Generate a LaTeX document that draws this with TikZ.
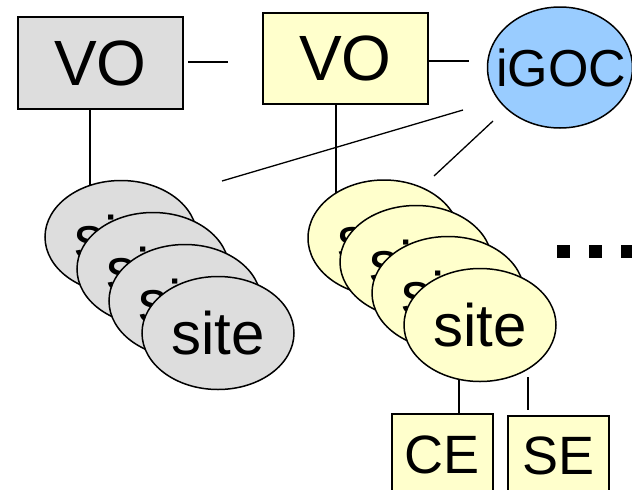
\documentclass[tikz,border=0pt]{standalone}
\usepackage{fontspec}
\setmainfont{Liberation Sans}
\usetikzlibrary{shapes.geometric}
\definecolor{greyfill}{HTML}{DDDDDD}
\definecolor{yelfill}{HTML}{FFFFCC}
\definecolor{bluefill}{HTML}{99CCFF}
\tikzset{
  vobox/.style={draw=black, line width=1.5pt, rectangle, inner sep=0pt, font=\fontsize{64}{64}\selectfont},
  sitenode/.style={draw=black, line width=1.5pt, ellipse, inner sep=0pt, minimum width=152pt, minimum height=113pt, font=\fontsize{60}{60}\selectfont},
  elbox/.style={draw=black, line width=1.5pt, fill=yelfill, rectangle, inner sep=0pt, font=\fontsize{54}{54}\selectfont},
  conn/.style={draw=black, line width=1.3pt},
  dotsq/.style={fill=black, rectangle, inner sep=0pt, minimum size=13pt}
}
\begin{document}
\begin{tikzpicture}[x=1pt,y=-1pt]
\useasboundingbox (0,0) rectangle (632,490);
\clip (0,0) rectangle (632,490);
\fill[white] (0,0) rectangle (632,490);

% connectors (behind shapes)
\coordinate (a1) at (188,62);  \coordinate (a2) at (228,62);
\coordinate (b1) at (428,61);  \coordinate (b2) at (469,61);
\coordinate (c1) at (90,106);  \coordinate (c2) at (90,188);
\coordinate (d1) at (336,104); \coordinate (d2) at (336,199);
\coordinate (e1) at (222,181); \coordinate (e2) at (463,110);
\coordinate (f1) at (434,176); \coordinate (f2) at (493,121);
\coordinate (g1) at (459,378); \coordinate (g2) at (459,414);
\coordinate (h1) at (528,377); \coordinate (h2) at (528,410);
\draw[conn] (a1) -- (a2);
\draw[conn] (b1) -- (b2);
\draw[conn] (c1) -- (c2);
\draw[conn] (d1) -- (d2);
\draw[conn] (e1) -- (e2);
\draw[conn] (f1) -- (f2);
\draw[conn] (g1) -- (g2);
\draw[conn] (h1) -- (h2);

% VO boxes
\node[vobox, fill=greyfill, minimum width=165pt, minimum height=92pt] (vo1) at (100.5,63) {VO};
\node[vobox, fill=yelfill, minimum width=165pt, minimum height=91pt] (vo2) at (345.5,58.5) {VO};

% iGOC
\node[draw=black, line width=1.5pt, fill=bluefill, ellipse, inner sep=0pt, minimum width=145pt, minimum height=121pt] (igoc) at (560,67.5) {};
\node[font=\fontsize{52}{52}\selectfont, inner sep=0pt] (igoctext) at (561,67.5) {iGOC};

% grey sites
\node[sitenode, fill=greyfill] (gs1) at (121,237) {site};
\node[sitenode, fill=greyfill] (gs2) at (153,269) {site};
\node[sitenode, fill=greyfill] (gs3) at (185,301) {site};
\node[sitenode, fill=greyfill] (gs4) at (218,333) {site};

% yellow sites
\node[sitenode, fill=yelfill, minimum height=116pt] (ys1) at (384,238) {site};
\node[sitenode, fill=yelfill] (ys2) at (416,262) {site};
\node[sitenode, fill=yelfill] (ys3) at (448,293) {site};
\node[sitenode, fill=yelfill] (ys4) at (480,325) {site};

% CE / SE
\node[elbox, minimum width=101pt, minimum height=82pt] (ce) at (442.5,455) {CE};
\node[elbox, minimum width=101pt, minimum height=80pt] (se) at (558.5,456) {SE};

% dots
\node[dotsq] (dot1) at (563.5,251.5) {};
\node[dotsq] (dot2) at (595.5,251.5) {};
\node[dotsq] (dot3) at (627.5,251.5) {};
\end{tikzpicture}
\end{document}
